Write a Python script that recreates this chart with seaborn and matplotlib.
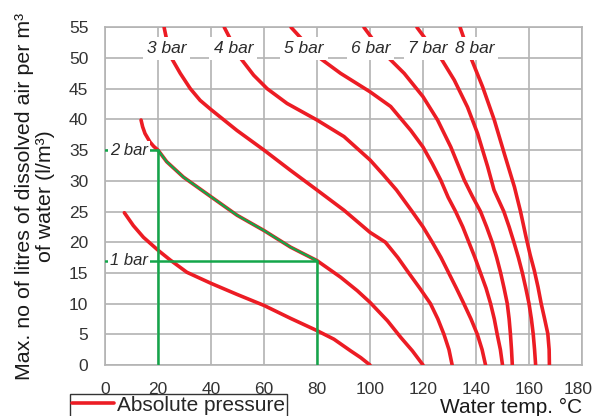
import numpy as np
import pandas as pd
import matplotlib
matplotlib.use('Agg')
import matplotlib.pyplot as plt
import matplotlib.transforms as mtrans
import seaborn as sns
from matplotlib.lines import Line2D

# curve data: water temp (C) vs max dissolved air (l/m3)
bar1_t = [7.3, 10.7, 14.5, 20, 24.6, 30.9, 40, 49.8, 60, 70, 80, 86.4, 92.7, 96.5, 100]
bar1_v = [24.8, 22.7, 20.8, 18.7, 17.1, 15.1, 13.3, 11.5, 9.7, 7.6, 5.6, 4.2, 2.3, 1.2, 0]

bar2_t = [13.6, 14.2, 15.1, 17, 18.4, 20, 23.3, 29.6, 40, 49.8, 60, 70, 80, 88.9, 95.2, 100,
          106.6, 111.6, 116, 120]
bar2_v = [39.9, 38.8, 37.7, 36.3, 35.6, 35, 33.1, 30.6, 27.4, 24.4, 21.9, 19.2, 17, 14.3, 12.1,
          10.2, 7.2, 4.5, 2.3, 0]

bar3_t = [22.3, 23.5, 24.8, 28.4, 32.2, 35.9, 40, 49.8, 60, 70, 80, 90.2, 100, 105.8,
          110.5, 114.6, 118.8, 122.8, 125.6, 127.9, 129.8, 131]
bar3_v = [55, 52.5, 50.2, 47.5, 45, 43.1, 41.6, 38.2, 35, 31.7, 28.5, 25.2, 21.6, 20,
          17.5, 15, 12.5, 10, 7.5, 5, 2.5, 0]

bar4_t = [45, 48, 51.1, 56.1, 61.2, 68.7, 80, 90.2, 100, 105, 110, 115.9, 120, 123.5,
          126.8, 129.7, 132.6, 135.4, 138.1, 140.5, 142.3, 143.6]
bar4_v = [55, 52.5, 50, 47.2, 45, 42.6, 39.9, 37.2, 33.4, 31, 28.5, 25, 22.5, 20,
          17.5, 15, 12.5, 10, 7.5, 5, 2.5, 0]

bar5_t = [70.2, 75.5, 80.7, 88.9, 100, 107.8, 115.4, 120, 123.5, 126.7, 129.5, 132.3,
          135, 137.3, 139.6, 141.7, 143.8, 145.5, 146.9, 148, 149.2, 150]
bar5_v = [55, 52.5, 50.1, 47.5, 44.5, 42.1, 38.2, 35.5, 32.8, 30.1, 27.3, 25,
          22.5, 20, 17.5, 15, 12.5, 10, 7.5, 5, 2.5, 0]

bar6_t = [97.7, 102, 106.6, 112.9, 120, 125.5, 130.5, 135.6, 138.6, 141.7, 144, 146.1,
          147.8, 149.3, 150.6, 151.8, 152.5, 153, 153.4, 153.7]
bar6_v = [55, 52.5, 50.2, 47.5, 43.7, 39.9, 35.5, 30.1, 27.5, 25, 22.5, 20,
          17.5, 15, 12.5, 10, 7.5, 5, 2.5, 0]

bar7_t = [117.7, 122, 126.7, 131.8, 136.8, 140.6, 144.4, 146.8, 150.5, 152.5, 154.3,
          156, 157.5, 158.8, 160, 160.9, 161.6, 162.1, 162.5]
bar7_v = [55, 52.5, 50, 46.4, 42, 37.7, 32.3, 28.5, 25, 22.5, 20,
          17.5, 15, 12.5, 10, 7.5, 5, 2.5, 0]

bar8_t = [134, 136, 138.1, 142.5, 146.9, 150.7, 154.5, 156.8, 158.9, 160.4, 162, 163.4,
          164.6, 165.9, 167.1, 167.6, 167.7]
bar8_v = [55, 52.5, 50, 45.3, 39.9, 34.4, 29, 25, 20.8, 18, 15.4, 12.7,
          10, 7.5, 5.1, 2.5, 0]

curve_names = ['1 bar', '2 bar', '3 bar', '4 bar', '5 bar', '6 bar', '7 bar', '8 bar']
curve_t = [bar1_t, bar2_t, bar3_t, bar4_t, bar5_t, bar6_t, bar7_t, bar8_t]
curve_v = [bar1_v, bar2_v, bar3_v, bar4_v, bar5_v, bar6_v, bar7_v, bar8_v]

# top labels
top_labels = ['3 bar', '4 bar', '5 bar', '6 bar', '7 bar', '8 bar']
top_label_x = [23.2, 48.4, 75, 100.2, 121.8, 139.4]
top_label_y = 51.5

# worked example: 20 C -> 80 C
ex_t = [20, 80]
ex_v = [35, 17]

red = '#ec1c24'
green = '#14a64a'
grid_col = '#b3b3b3'
txt_col = '#2b2b2b'

sns.set_style('white')
plt.rcParams['font.family'] = ['Liberation Sans', 'DejaVu Sans']

rows = []
for name, t, v in zip(curve_names, curve_t, curve_v):
    for a, b in zip(t, v):
        rows.append({'pressure': name, 'temp': a, 'air': b})
df = pd.DataFrame(rows)

fig = plt.figure(figsize=(5.92, 4.16), dpi=100)
ax = fig.add_axes([105/592, 1 - 365/416, 477/592, (365 - 27.3)/416])

sns.lineplot(data=df, x='temp', y='air', hue='pressure', palette=[red]*8,
             sort=False, estimator=None, lw=2.6, legend=False, ax=ax, zorder=3)
for ln in ax.lines:
    ln.set_solid_joinstyle('round')

# green overlay on the 2 bar curve between the two temperatures
seg = df[(df.pressure == '2 bar') & (df.temp >= ex_t[0]) & (df.temp <= ex_t[1])]
ax.plot(seg.temp, seg.air, color=green, lw=1.6, zorder=4)
ax.plot([ex_t[0], ex_t[0]], [0, ex_v[0]], color=green, lw=1.8, zorder=4)
ax.plot([0, ex_t[0]], [ex_v[0], ex_v[0]], color=green, lw=1.8, zorder=4)
ax.plot([ex_t[1], ex_t[1]], [0, ex_v[1]], color=green, lw=1.8, zorder=4)
ax.plot([0, ex_t[1]], [ex_v[1], ex_v[1]], color=green, lw=1.8, zorder=4)

lab_box = dict(fc='white', ec='none', pad=1.5)
ax.text(9.2, ex_v[0], '2 bar', style='italic', fontsize=12, color=txt_col,
        ha='center', va='center', bbox=lab_box, zorder=5)
ax.text(9.2, ex_v[1], '1 bar', style='italic', fontsize=12, color=txt_col,
        ha='center', va='center', bbox=lab_box, zorder=5)
for lab, lx in zip(top_labels, top_label_x):
    ax.text(lx, top_label_y, lab, style='italic', fontsize=12.5, color=txt_col,
            ha='center', va='center', bbox=dict(fc='white', ec='none', pad=3), zorder=5)

ax.set_xlim(0, 180)
ax.set_ylim(0, 55)
ax.set_xticks(np.arange(0, 181, 20))
ax.set_yticks(np.arange(0, 56, 5))
ax.grid(True, color=grid_col, lw=1.2)
ax.set_axisbelow(True)
for sp in ax.spines.values():
    sp.set_color(grid_col)
    sp.set_linewidth(1.2)
ax.tick_params(axis='both', length=7, width=1.2, color=grid_col,
               labelsize=12.5, labelcolor='#333333', pad=5)
# last x label nudged left so it stays inside the figure
last = ax.get_xticklabels()[-1]
last.set_transform(last.get_transform() + mtrans.ScaledTranslation(-4/100, 0, fig.dpi_scale_trans))

ax.set_ylabel('Max. no of litres of dissolved air per m³\nof water (l/m³)',
              fontsize=15.4, color='#1a1a1a', labelpad=10, linespacing=1.15)
ax.set_xlabel('Water temp. °C', fontsize=15, color='#1a1a1a', loc='right', labelpad=1)

handle = Line2D([], [], color=red, lw=2.6)
fig.legend([handle], ['Absolute pressure'], loc='upper left',
           bbox_to_anchor=(70/592, 1 - 393.5/416), fontsize=15, frameon=True,
           fancybox=False, edgecolor='#333333', framealpha=1, borderpad=0.1,
           handlelength=2.0, handletextpad=0.15, borderaxespad=0)

fig.savefig('out.png', dpi=100)
